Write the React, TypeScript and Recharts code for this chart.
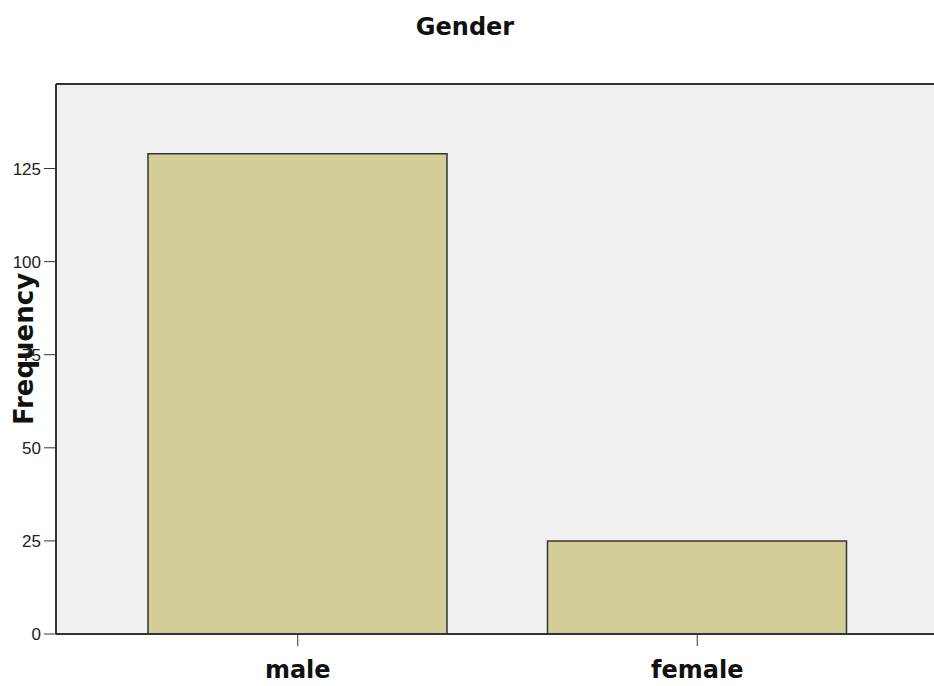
import React from 'react';
import { BarChart, Bar, XAxis, YAxis, CartesianGrid, ReferenceLine, Customized } from 'recharts';

const categories = ['male', 'female'];
const frequencies = [129, 25];
const yTicks = [0, 25, 50, 75, 100, 125];
const yMax = 147.7;
const chartTitle = 'Gender';
const yTitle = 'Frequency';

const data = categories.map((c, i) => ({ name: c, value: frequencies[i] }));

const XTick = (props: any) => {
  const { x, y, payload } = props;
  return (
    <text x={x} y={y + 30} textAnchor="middle" fontFamily="DejaVu Sans" fontWeight="bold" fontSize={24} fill="#111">
      {payload.value}
    </text>
  );
};

const Titles = () => (
  <g>
    <text x={465} y={35} textAnchor="middle" fontFamily="DejaVu Sans" fontWeight="bold" fontSize={24} fill="#111">
      {chartTitle}
    </text>
    <text
      x={33}
      y={349}
      transform="rotate(-90 33 349)"
      textAnchor="middle"
      fontFamily="DejaVu Sans"
      fontWeight="bold"
      fontSize={26}
      fill="#111"
    >
      {yTitle}
    </text>
  </g>
);

export default function App() {
  return (
    <div style={{ position: 'fixed', top: 0, left: 0, width: 934, height: 686, overflow: 'hidden', background: '#fff' }}>
      <BarChart width={950} height={686} data={data} margin={{ top: 84, right: 11, bottom: 0, left: 0 }}>
        <CartesianGrid horizontal={false} vertical={false} fill="#F0F0F0" />
        <XAxis
          dataKey="name"
          height={52}
          padding={{ left: 42, right: 42 }}
          tickSize={12}
          tickLine={{ stroke: '#333', strokeWidth: 1 }}
          axisLine={{ stroke: '#333', strokeWidth: 2 }}
          tick={<XTick />}
          interval={0}
        />
        <YAxis
          width={56}
          domain={[0, yMax]}
          ticks={yTicks}
          tickSize={12}
          tickMargin={3}
          tickLine={{ stroke: '#333', strokeWidth: 1 }}
          axisLine={{ stroke: '#333', strokeWidth: 2 }}
          tick={{ fontFamily: 'Liberation Sans', fontSize: 17, fill: '#222' }}
          allowDataOverflow
        />
        <ReferenceLine y={yMax} stroke="#333" strokeWidth={2} ifOverflow="extendDomain" />
        <Bar dataKey="value" barSize={299} fill="#D3CE97" stroke="#333" strokeWidth={1.5} isAnimationActive={false} />
        <Customized component={Titles} />
      </BarChart>
    </div>
  );
}
